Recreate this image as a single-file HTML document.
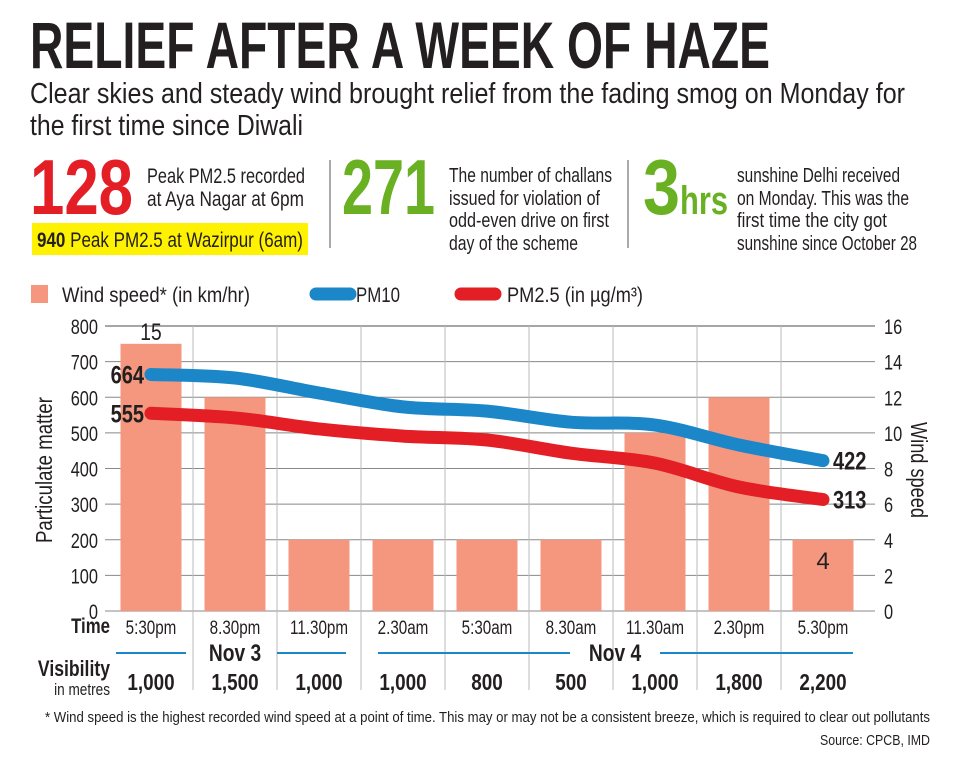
<!DOCTYPE html>
<html><head><meta charset="utf-8"><style>
body{margin:0;background:#fff}
svg{display:block;font-family:"Liberation Sans Narrow","Liberation Sans",sans-serif}
</style></head><body>
<svg id="c" width="956" height="759" viewBox="0 0 956 759">
<text x="30" y="68" font-size="66" font-weight="bold" fill="#231f20" textLength="740" lengthAdjust="spacingAndGlyphs">RELIEF AFTER A WEEK OF HAZE</text>
<text x="30" y="103" font-size="29" fill="#231f20" textLength="875" lengthAdjust="spacingAndGlyphs">Clear skies and steady wind brought relief from the fading smog on Monday for</text>
<text x="30" y="135" font-size="29" fill="#231f20" textLength="273" lengthAdjust="spacingAndGlyphs">the first time since Diwali</text>

<text x="30" y="214" font-size="78" font-weight="bold" fill="#e31e24" textLength="103" lengthAdjust="spacingAndGlyphs">128</text>
<text x="147" y="183" font-size="21" fill="#231f20" textLength="158" lengthAdjust="spacingAndGlyphs">Peak PM2.5 recorded</text>
<text x="147" y="206" font-size="21" fill="#231f20" textLength="157" lengthAdjust="spacingAndGlyphs">at Aya Nagar at 6pm</text>
<rect x="32" y="223" width="276" height="32" fill="#fff200"/>
<text x="37" y="247" font-size="21" fill="#231f20" textLength="266" lengthAdjust="spacingAndGlyphs"><tspan font-weight="bold">940</tspan> Peak PM2.5 at Wazirpur (6am)</text>
<line x1="330" y1="160" x2="330" y2="248" stroke="#555" stroke-width="1"/>
<text x="342" y="214" font-size="78" font-weight="bold" fill="#6ab023" textLength="93" lengthAdjust="spacingAndGlyphs">271</text>
<g font-size="20" fill="#231f20">
<text x="449" y="182" textLength="163" lengthAdjust="spacingAndGlyphs">The number of challans</text>
<text x="449" y="205" textLength="151" lengthAdjust="spacingAndGlyphs">issued for violation of</text>
<text x="449" y="227" textLength="160" lengthAdjust="spacingAndGlyphs">odd-even drive on first</text>
<text x="449" y="250" textLength="129" lengthAdjust="spacingAndGlyphs">day of the scheme</text>
</g>
<line x1="628" y1="160" x2="628" y2="248" stroke="#555" stroke-width="1"/>
<text x="643" y="214" font-size="78" font-weight="bold" fill="#6ab023" textLength="37" lengthAdjust="spacingAndGlyphs">3</text>
<text x="680" y="214" font-size="40" font-weight="bold" fill="#6ab023" textLength="48" lengthAdjust="spacingAndGlyphs">hrs</text>
<g font-size="20" fill="#231f20">
<text x="737" y="182" textLength="163" lengthAdjust="spacingAndGlyphs">sunshine Delhi received</text>
<text x="737" y="205" textLength="172" lengthAdjust="spacingAndGlyphs">on Monday. This was the</text>
<text x="737" y="227" textLength="150" lengthAdjust="spacingAndGlyphs">first time the city got</text>
<text x="737" y="250" textLength="180" lengthAdjust="spacingAndGlyphs">sunshine since October 28</text>
</g>

<g>
<rect x="31" y="285" width="17" height="18" fill="#f4977e"/>
<text x="62" y="302" font-size="21" fill="#231f20" textLength="188" lengthAdjust="spacingAndGlyphs">Wind speed* (in km/hr)</text>
<line x1="316" y1="294" x2="350" y2="294" stroke="#1b87c9" stroke-width="13" stroke-linecap="round"/>
<text x="356" y="302" font-size="21" fill="#231f20" textLength="44" lengthAdjust="spacingAndGlyphs">PM10</text>
<line x1="461" y1="294" x2="495" y2="294" stroke="#e31e24" stroke-width="13" stroke-linecap="round"/>
<text x="507" y="302" font-size="21" fill="#231f20" textLength="136" lengthAdjust="spacingAndGlyphs">PM2.5  (in µg/m³)</text>
</g>
<g id="chart"></g>
<text x="930" y="722" font-size="15" fill="#231f20" text-anchor="end" textLength="885" lengthAdjust="spacingAndGlyphs">* Wind speed is the highest recorded wind speed at a point of time. This may or may not be a consistent breeze, which is required to clear out pollutants</text>
<text x="930" y="745" font-size="15" fill="#231f20" text-anchor="end" textLength="110" lengthAdjust="spacingAndGlyphs">Source: CPCB, IMD</text>
</svg>
<script>
const times = ["5:30pm","8.30pm","11.30pm","2.30am","5:30am","8.30am","11.30am","2.30pm","5.30pm"];
const wind = [15,12,4,4,4,4,10,12,4];
const pm10 = [664,654,612,573,561,530,522,466,422];
const pm25 = [555,542,511,491,480,443,415,348,313];
const visibility = ["1,000","1,500","1,000","1,000","800","500","1,000","1,800","2,200"];
const leftTicks = [0,100,200,300,400,500,600,700,800];
const rightTicks = [0,2,4,6,8,10,12,14,16];

const NS="http://www.w3.org/2000/svg";
const g=document.getElementById('chart');
const X0=151, DX=84, Y0=611, YT=326, LM=800, RM=16, XL=105, XR=875;
const x=i=>X0+i*DX;
const yL=v=>Y0-(v/LM)*(Y0-YT);
const yR=v=>Y0-(v/RM)*(Y0-YT);
function mk(tag,attrs,txt){const e=document.createElementNS(NS,tag);for(const k in attrs)e.setAttribute(k,attrs[k]);if(txt!==undefined)e.textContent=txt;g.appendChild(e);return e;}
function narrow(e,f){const w=e.getComputedTextLength();e.setAttribute('textLength',(w*f).toFixed(1));e.setAttribute('lengthAdjust','spacingAndGlyphs');}

leftTicks.forEach((t,i)=>{
 const l=mk('line',{x1:XL,x2:XR,y1:yL(t),y2:yL(t),stroke:'#888','stroke-width':i==leftTicks.length-1?1.6:1});
 
 
 const tx=mk('text',{x:98,y:yL(t)+8,'font-size':21,fill:'#231f20','text-anchor':'end'},t);
 
 
 narrow(tx,0.78);
});
rightTicks.forEach(t=>{
 const tx=mk('text',{x:884,y:yR(t)+8,'font-size':21,fill:'#231f20'},t);
 
 
 narrow(tx,0.78);
});
for(let i=0;i<times.length-1;i++){
 const l=mk('line',{x1:x(i)+42,x2:x(i)+42,y1:YT,y2:690,stroke:'#bbb','stroke-width':1});
 
 
}
wind.forEach((w,i)=>{
 const r=mk('rect',{x:x(i)-30.5,y:yR(w),width:61,height:Y0-yR(w),fill:'#f4977e'});
 
 
});
let t1=mk('text',{x:x(0),y:yR(wind[0])-4,'font-size':24,fill:'#231f20','text-anchor':'middle'},wind[0]);


narrow(t1,0.8);
let n=wind.length-1;
let t2=mk('text',{x:x(n),y:yR(wind[n])+29,'font-size':24,fill:'#231f20','text-anchor':'middle'},wind[n]);



function path(vals){
 const p=vals.map((v,i)=>[x(i),yL(v)]);
 let d='M'+p[0][0]+','+p[0][1];
 for(let i=0;i<p.length-1;i++){
  const p0=p[Math.max(0,i-1)], a=p[i], b=p[i+1], p3=p[Math.min(p.length-1,i+2)];
  const c1=[a[0]+(b[0]-p0[0])/6,a[1]+(b[1]-p0[1])/6];
  const c2=[b[0]-(p3[0]-a[0])/6,b[1]-(p3[1]-a[1])/6];
  d+=` C${c1[0]},${c1[1]} ${c2[0]},${c2[1]} ${b[0]},${b[1]}`;
 }
 return d;
}
let pl=mk('path',{d:path(pm10),fill:'none',stroke:'#1b87c9','stroke-width':13,'stroke-linecap':'round','stroke-linejoin':'round'});


let pr=mk('path',{d:path(pm25),fill:'none',stroke:'#e31e24','stroke-width':13,'stroke-linecap':'round','stroke-linejoin':'round'});


[[pm10,'pm10'],[pm25,'pm25']].forEach(([s,nm])=>{
 let a=mk('text',{x:x(0)-7,y:yL(s[0])+9,'font-size':25,'font-weight':'bold',fill:'#231f20','text-anchor':'end'},s[0]);
 
 
 narrow(a,0.8);
 let b=mk('text',{x:x(n)+10,y:yL(s[n])+9,'font-size':25,'font-weight':'bold',fill:'#231f20'},s[n]);
 
 
 narrow(b,0.8);
});
let yt=mk('text',{x:0,y:0,'font-size':23,fill:'#231f20','text-anchor':'middle',transform:'translate(52,470) rotate(-90)'},'Particulate matter');


yt.setAttribute('textLength','146');
yt.setAttribute('lengthAdjust','spacingAndGlyphs');
let yt2=mk('text',{x:0,y:0,'font-size':23,fill:'#231f20','text-anchor':'middle',transform:'translate(911,470) rotate(90)'},'Wind speed');


yt2.setAttribute('textLength','96');
yt2.setAttribute('lengthAdjust','spacingAndGlyphs');
let tl=mk('text',{x:110,y:633,'font-size':21,'font-weight':'bold',fill:'#231f20','text-anchor':'end'},'Time');


narrow(tl,0.8);
times.forEach((t,i)=>{
 const e=mk('text',{x:x(i),y:634,'font-size':19,fill:'#231f20','text-anchor':'middle'},t);
 
 
 narrow(e,0.8);
 const v=mk('text',{x:x(i),y:690,'font-size':23,'font-weight':'bold',fill:'#231f20','text-anchor':'middle'},visibility[i]);
 
 
 narrow(v,0.82);
});
[[116,186],[277,346],[378,570],[660,853]].forEach(([a,b])=>{
 const l=mk('line',{x1:a,x2:b,y1:653,y2:653,stroke:'#1b87c9','stroke-width':2});
 
 
});
let d3=mk('text',{x:235,y:661,'font-size':24,'font-weight':'bold',fill:'#231f20','text-anchor':'middle'},'Nov 3');


narrow(d3,0.8);
let d4=mk('text',{x:615,y:661,'font-size':24,'font-weight':'bold',fill:'#231f20','text-anchor':'middle'},'Nov 4');


narrow(d4,0.8);
let vl=mk('text',{x:110,y:676,'font-size':22,'font-weight':'bold',fill:'#231f20','text-anchor':'end'},'Visibility');


narrow(vl,0.8);
let vm=mk('text',{x:110,y:695,'font-size':17,fill:'#231f20','text-anchor':'end'},'in metres');


narrow(vm,0.8);
</script>
</body></html>
